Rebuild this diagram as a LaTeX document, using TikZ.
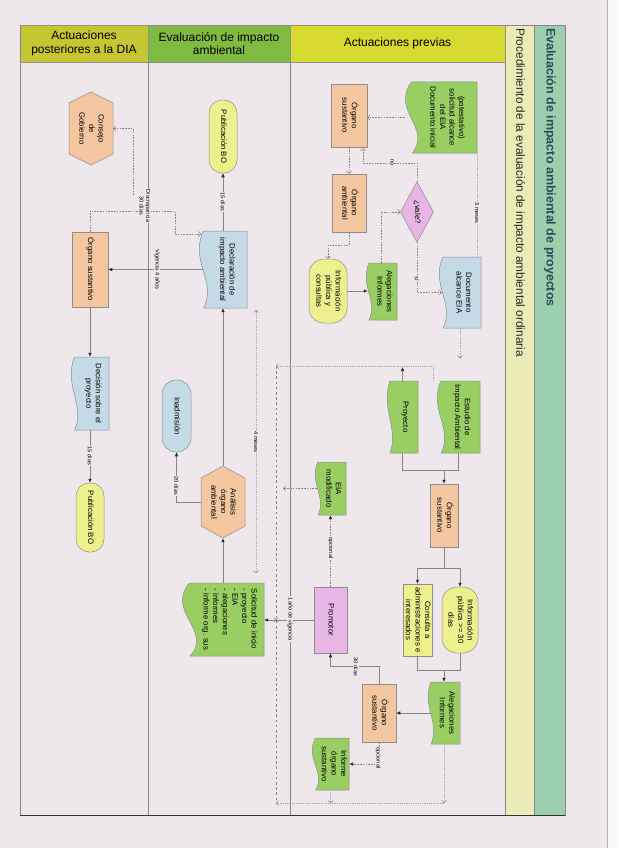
\documentclass[tikz,border=0pt]{standalone}
\usepackage{fontspec}
\setmainfont{Liberation Sans}
\usepackage{graphicx}
\usetikzlibrary{arrows.meta,calc,shapes.geometric,shapes.misc}
\definecolor{bgc}{HTML}{EEE8EC}
\definecolor{hdrA}{HTML}{C5C631}
\definecolor{hdrB}{HTML}{7FBB40}
\definecolor{hdrC}{HTML}{D6DA2E}
\definecolor{bandY}{HTML}{EAEBB6}
\definecolor{bandG}{HTML}{9BCFAD}
\definecolor{titc}{HTML}{2E4A5A}
\definecolor{orgC}{HTML}{F4C7A1}
\definecolor{grnC}{HTML}{98CE62}
\definecolor{bluC}{HTML}{C4DAE6}
\definecolor{yelC}{HTML}{EEF08E}
\definecolor{pnkC}{HTML}{E8B6E4}
\definecolor{lineC}{HTML}{858585}
\definecolor{lineL}{HTML}{A8A8A8}
\definecolor{tipC}{HTML}{2A2A2A}
\definecolor{edgeC}{HTML}{8E8E8E}

\newcommand\rt[1]{\rotatebox{-90}{\begin{tabular}{@{}c@{}}#1\end{tabular}}}
\newcommand\rtl[1]{\rotatebox{-90}{\begin{tabular}{@{}l@{}}#1\end{tabular}}}

% name x1 y1 x2 y2 style text
\newcommand\boxnode[7]{%
  \node[shp,#6,minimum width={(#4-#2)*1pt},minimum height={(#5-#3)*1pt}] (#1) at ({(#2+#4)/2},{(#3+#5)/2}) {#7};}

% name x1 y1 x2 y2 fill text  (document shape, wavy left edge)
\newcommand\docnode[7]{%
  \pgfmathsetmacro\wvd{0.2*(#4-#2)}%
  \pgfmathsetmacro\wvh{#5-#3}%
  \pgfmathsetmacro\wvs{0.8*\wvd}%
  \filldraw[draw=edgeC,line width=0.5pt,fill=#6] ({#2+0.45*\wvd},#3) -- (#4,#3) -- (#4,#5) -- ({#2+0.5*\wvd},#5) .. controls ({#2+1.9*\wvd},{#5-0.35*\wvh}) and ({#2-1.0*\wvd},{#3+0.4*\wvh}) .. ({#2+0.45*\wvd},#3) -- cycle;
  \node[txt,minimum width={(#4-#2)*1pt},minimum height={(#5-#3)*1pt}] (#1) at ({(#2+#4)/2},{(#3+#5)/2}) {\hspace*{\wvs pt}#7};}

% name x1 y1 x2 y2 c fill text (hexagon, vertices top and bottom)
\newcommand\hexnode[8]{%
  \filldraw[draw=edgeC,line width=0.5pt,fill=#7] ({(#2+#4)/2},#3) -- (#4,{#3+#6}) -- (#4,{#5-#6}) -- ({(#2+#4)/2},#5) -- (#2,{#5-#6}) -- (#2,{#3+#6}) -- cycle;
  \node[txt,minimum width={(#4-#2)*1pt},minimum height={(#5-#3)*1pt}] (#1) at ({(#2+#4)/2},{(#3+#5)/2}) {#8};}

\begin{document}
\begin{tikzpicture}[x=1pt,y=-1pt,
  shp/.style={draw=edgeC,line width=0.5pt,inner sep=0pt,font=\fontsize{7.8}{9.6}\selectfont},
  txt/.style={inner sep=0pt,font=\fontsize{7.8}{9.6}\selectfont},
  ln/.style={draw=lineC,line width=0.55pt},
  arr/.style={ln,-{Latex[length=4pt,width=3.6pt,color=tipC]}},
  arrF/.style={-{Latex[length=4pt,width=3.6pt,color=tipC]}},
  dsh/.style={ln,dash pattern=on 1.6pt off 1.2pt},
  dlong/.style={ln,dash pattern=on 2.6pt off 2.6pt},
  dtt/.style={draw=lineL,line width=0.5pt,dash pattern=on 0.7pt off 1.1pt},
  chev/.style={-{Straight Barb[length=2.2pt,width=5pt,color=lineC]}},
  lbl/.style={fill=bgc,inner sep=0.8pt,rotate=-90,font=\fontsize{5.6}{6.6}\selectfont,align=center},
  hdr/.style={draw=edgeC,line width=0.5pt,font=\fontsize{12}{13.5}\selectfont,align=center,inner sep=0pt}]
\useasboundingbox (0,0) rectangle (618,848);
\fill[bgc] (0,0) rectangle (618,848);
\fill[white!70!bgc] (607,0) rectangle (618,848);
\draw[black!30,line width=0.6pt] (607,0) -- (607,848);

% right bands
\fill[bandY] (505,25) rectangle (534,815);
\fill[bandG] (534,25) rectangle (565,815);
\draw[ln] (505,25) rectangle (534,815);
\draw[ln] (534,25) rectangle (565,815);
\node[rotate=-90,anchor=west,inner sep=0pt,font=\fontsize{12.5}{14}\selectfont\bfseries,text=titc] (title) at (550,28) {Evaluación de impacto ambiental de proyectos};
\node[rotate=-90,anchor=west,inner sep=0pt,font=\fontsize{11.8}{13}\selectfont,text=black!85] (subtitle) at (519.5,28) {Procedimiento de la evaluación de impacto ambiental ordinaria};

% lane headers
\node[hdr,fill=hdrA,minimum width=128pt,minimum height=37pt] (h1) at (84,43.5) {Actuaciones\\posteriores a la DIA};
\node[hdr,fill=hdrB,minimum width=142pt,minimum height=37pt] (h2) at (219,43.5) {Evaluación de impacto\\ambiental};
\node[hdr,fill=hdrC,minimum width=215pt,minimum height=37pt] (h3) at (397.5,43.5) {Actuaciones previas};

% frame and lane dividers
\draw[ln] (20,25) -- (20,815);
\draw[ln] (148,62) -- (148,815);
\draw[ln] (290,62) -- (290,815);
\draw[black!80,line width=1.3pt] (20,815.5) -- (565,815.5);

% ---------- Actuaciones previas ----------
\docnode{docini}{405}{82}{477}{153}{grnC}{\rt{(potestativo)\\solicitud alcance\\del EIA\\Documento inicial}}
\boxnode{os1}{331}{84}{367}{147}{fill=orgC}{\rt{Órgano\\sustantivo}}
\boxnode{oa1}{332}{174}{366}{232}{fill=orgC}{\rt{Órgano\\ambiental}}
\node[shp,diamond,fill=pnkC,minimum width=33pt,minimum height=61pt] (vale) at (417,212) {\rt{¿vale?}};
\docnode{docalc}{439}{257}{481}{328}{bluC}{\rt{Documento\\alcance EIA}}
\boxnode{infpub1}{309}{259}{347}{323}{fill=yelC,rounded corners=15pt}{\rt{Información\\pública y\\consultas}}
\docnode{aleg1}{366}{263}{397}{320}{grnC}{\rt{Alegaciones\\Informes}}
\docnode{eia}{437}{381}{480}{453}{grnC}{\rt{Estudio de\\Impacto Ambiental}}
\docnode{proy}{387}{381}{418}{453}{grnC}{\rt{Proyecto}}
\boxnode{os2}{430}{484}{458}{547}{fill=orgC}{\rt{Órgano\\sustantivo}}
\docnode{eiamod}{315}{462}{346}{515}{grnC}{\rt{EIA\\modificado}}
\boxnode{infpub2}{442}{587}{478}{653}{fill=yelC,rounded corners=15pt}{\rt{Información\\pública >= 30\\días}}
\boxnode{consulta}{403}{584}{432}{656}{fill=yelC}{\rt{Consulta a\\administraciones e\\interesados}}
\docnode{aleg2}{428}{682}{460}{744}{grnC}{\rt{Alegaciones\\Informes}}
\boxnode{os3}{362}{684}{396}{742}{fill=orgC}{\rt{Órgano\\sustantivo}}
\boxnode{promotor}{314}{587}{347}{653}{fill=pnkC}{\rt{Promotor}}
\docnode{infos}{312}{738}{349}{790}{grnC}{\rt{Informe\\órgano\\sustantivo}}

% ---------- Evaluación ----------
\boxnode{bo1}{209}{100}{237}{173}{fill=yelC,rounded corners=13pt}{\rt{Publicación BO}}
\docnode{dia}{199}{231}{247}{308}{bluC}{\rt{Declaración de\\impacto ambiental}}
\boxnode{inad}{162}{380}{191}{452}{fill=bluC,rounded corners=14pt}{\rt{Inadmisión}}
\hexnode{analisis}{201}{466}{245}{538}{12}{orgC}{\rt{Análisis\\órgano\\ambiental}}
\docnode{solic}{182}{583}{264}{656}{grnC}{\rtl{Solicitud de inicio\\- proyecto\\- EIA\\- alegaciones\\- informes\\- informe org. sus}}

% ---------- Posteriores ----------
\hexnode{consejo}{69}{92}{113}{165}{11}{orgC}{\rt{Consejo\\de\\Gobierno}}
\boxnode{os4}{72}{232}{108}{307}{fill=orgC}{\rt{Órgano sustantivo}}
\docnode{decision}{71}{357}{109}{430}{bluC}{\rt{Decisión sobre el\\proyecto}}
\boxnode{bo2}{76}{483}{104}{552}{fill=yelC,rounded corners=13pt}{\rt{Publicación BO}}

% helper coordinates
\coordinate (c2) at (276,366);
\coordinate (c3) at (276,803);
\coordinate (c4) at (283,489);
\coordinate (j1) at (444,470);
\coordinate (j2) at (444,568);
\coordinate (j3) at (444,670);
\coordinate (m1) at (256,310);
\coordinate (m2) at (256,573);
\coordinate (d1) at (133,195);
\coordinate (d2) at (175,211);
\coordinate (d3) at (201,234);

% ---------- connectors: previas ----------
\draw[dsh,chev] (docini.west) -- (docini.west -| os1.east);
\draw[dsh,chev] (os1.south) -- (oa1.north);
\draw[dsh,chev] (vale.north) |- ($(os1.south)+(14,16)$) -- ($(os1.south)+(14,1)$);
\draw[dsh,chev] (vale.south) |- ([xshift=3pt]docalc.west);
\draw[dtt] (docini.south east) -- (docini.south east |- docalc.north);
\draw[dsh,chev] (oa1.south) -- ++(0,13) -| (infpub1.north);
\draw[arr] (infpub1.east) -- ([xshift=2pt]infpub1.east -| aleg1.west);
\draw[dsh,chev] (aleg1.north) |- (vale.west);
\draw[dsh,draw=lineL,chev] (docalc.south) -- ++(0,30);
\draw[dtt,chev] ($(eia.north west)+(-4,0)$) |- (c2);
\draw[arr] (proy.north) -- ($(proy.north |- c2)+(0,1)$);
\draw[ln] (eia.south) |- (j1);
\draw[ln] (proy.south) |- (j1);
\draw[arr] (j1) -- (os2.north);
\draw[ln] (os2.south) -- (j2);
\draw[arr] (j2) -| (infpub2.north);
\draw[arr] (j2) -| (consulta.north);
\draw[ln] (infpub2.south) |- (j3);
\draw[ln] (consulta.south) |- (j3);
\draw[arr] (j3) -- (aleg2.north);
\draw[arr] ([xshift=3pt]aleg2.west) -- (aleg2.west -| os3.east);
\draw[arr] (os3.north) -- ++(0,-17) -| (promotor.south);
\draw[dsh,arrF] (os3.south) |- (infos.east);
\draw[dtt,chev] (infos.south) -- (infos.south |- c3);
\draw[dtt,chev] (aleg2.south) -- (aleg2.south |- c3);
\draw[dtt,chev] (aleg2.south |- c3) -- (c3);
\draw[dsh,arrF] (promotor.north) -- (eiamod.south);
\draw[dsh,chev] ([xshift=2pt]eiamod.west) -- (eiamod.west -| c4);
\draw[dlong] (c2) -- (c3);
\draw[arr] (promotor.west) -- (promotor.west -| solic.east);
\node[draw=lineC,cross out,line width=0.5pt,minimum size=4pt,inner sep=0pt] (xm) at (276,620) {};

% ---------- connectors: evaluación ----------
\draw[dtt,{Straight Barb[length=2.2pt,width=5pt,color=lineC]}-{Straight Barb[length=2.2pt,width=5pt,color=lineC]}] (m1) -- (m2);
\draw[arr] (analisis.north) -- (dia.south);
\draw[arr] (solic.north) -- (analisis.south);
\draw[arr] (analisis.west) -| (inad.south);
\draw[arr] (dia.north) -- (bo1.south);
\draw[arr] ([xshift=4pt]dia.west) -- (dia.west -| os4.east);

% ---------- connectors: posteriores ----------
\draw[dsh,chev] (os4.north) |- (d2) |- (d3);
\draw[dsh,chev] (d1) |- (consejo.east);
\draw[arr] (os4.south) -- (decision.north);
\draw[arr] (decision.south) -- (bo2.north);

% ---------- labels ----------
\node[lbl] (lno) at (392,163) {no};
\node[lbl] (lsi) at (417,279) {sí};
\node[lbl] (l3m) at (477,213) {3 meses};
\node[lbl] (l30) at (356,667) {30 días};
\node[lbl] (lop1) at (378,758) {opcional};
\node[lbl] (lop2) at (330.5,548) {opcional};
\node[lbl] (l1a) at (290,619) {1 año de vigencia};
\node[lbl] (l4m) at (256,442) {4 meses};
\node[lbl] (l20) at (176.5,486) {20 días};
\node[lbl] (l15a) at (223,202) {15 días};
\node[lbl] (lvig) at (157,269.5) {Vigencia 4 años};
\node[lbl] (ldis) at (145,206) {Discrepancia\\30 días};
\node[lbl] (l15b) at (90,456) {15 días};
\end{tikzpicture}
\end{document}
